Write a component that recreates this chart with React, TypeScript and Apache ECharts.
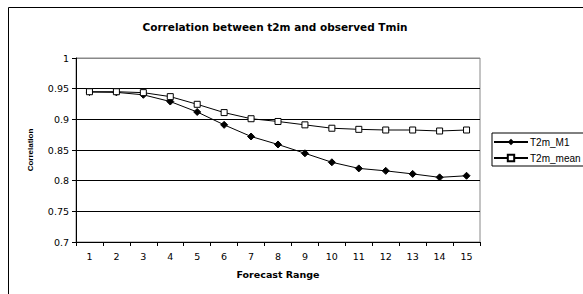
import React, { useEffect, useRef } from "react";
import * as echarts from "echarts";

const categories = ["1","2","3","4","5","6","7","8","9","10","11","12","13","14","15"];
const m1Values = [0.9445, 0.944, 0.940, 0.929, 0.912, 0.891, 0.872, 0.859, 0.8446, 0.830, 0.820, 0.816, 0.811, 0.8054, 0.808];
const meanValues = [0.945, 0.945, 0.9435, 0.937, 0.9245, 0.911, 0.901, 0.8965, 0.891, 0.8855, 0.8837, 0.8826, 0.8826, 0.881, 0.8826];

export default function App() {
  const ref = useRef<HTMLDivElement>(null);
  useEffect(() => {
    if (!ref.current) return;
    const chart = echarts.init(ref.current, undefined, { renderer: "svg" });
    const font = "'DejaVu Sans', Arial, sans-serif";
    const font2 = "Arial, 'Liberation Sans', sans-serif";
    chart.setOption({
      animation: false,
      backgroundColor: "#fff",
      textStyle: { fontFamily: font },
      title: {
        text: "Correlation between t2m and observed Tmin",
        left: 270,
        textAlign: "center",
        top: 16,
        textStyle: { fontSize: 10.5, fontWeight: "bold", color: "#000", fontFamily: font },
      },
      graphic: [
        {
          type: "rect",
          shape: { x: 8.5, y: 7.5, width: 700, height: 400 },
          style: { fill: "none", stroke: "#000", lineWidth: 1 },
          silent: true,
          z: -1,
        },
      ],
      legend: {
        left: 492,
        top: 133,
        orient: "vertical",
        itemWidth: 34,
        itemHeight: 8,
        itemGap: 6,
        padding: [4, 40, 3, 1],
        borderColor: "#000",
        borderWidth: 1,
        backgroundColor: "#fff",
        textStyle: { fontSize: 10, color: "#000", fontFamily: font2, padding: [0, 0, 0, -3] },
        data: ["T2m_M1", "T2m_mean"],
      },
      grid: {
        left: 76,
        right: 103,
        top: 58,
        bottom: 52,
        show: true,
        borderColor: "#888",
        borderWidth: 1,
      },
      xAxis: {
        type: "category",
        data: categories,
        boundaryGap: true,
        name: "Forecast Range",
        nameLocation: "middle",
        nameGap: 27,
        nameTextStyle: { fontSize: 9.5, fontWeight: "bold", color: "#000", fontFamily: font },
        axisLine: { lineStyle: { color: "#000", width: 1 } },
        axisTick: { show: true, alignWithLabel: false, length: 4, lineStyle: { color: "#000" } },
        axisLabel: { fontSize: 9.5, color: "#000", margin: 9, fontFamily: font },
        splitLine: { show: false },
      },
      yAxis: {
        type: "value",
        min: 0.7,
        max: 1,
        interval: 0.05,
        name: "Correlation",
        nameLocation: "middle",
        nameGap: 42,
        nameTextStyle: { fontSize: 8, fontWeight: "bold", color: "#000", fontFamily: font2 },
        axisLine: { show: true, lineStyle: { color: "#000", width: 1 } },
        axisTick: { show: true, length: 4, lineStyle: { color: "#000" } },
        axisLabel: { fontSize: 9.5, color: "#000", margin: 7, fontFamily: font },
        splitLine: {
          show: true,
          lineStyle: { color: ["#000", "#000", "#000", "#000", "#000", "#000", "#888"], width: 1 },
        },
      },
      series: [
        {
          name: "T2m_M1",
          type: "line",
          data: m1Values,
          symbol: "diamond",
          symbolSize: 7,
          color: "#000",
          itemStyle: { color: "#000", borderColor: "#000" },
          lineStyle: { color: "#000", width: 1 },
        },
        {
          name: "T2m_mean",
          type: "line",
          data: meanValues,
          symbol: "rect",
          symbolSize: 6,
          color: "#000",
          itemStyle: { color: "#fff", borderColor: "#000", borderWidth: 1 },
          lineStyle: { color: "#000", width: 1 },
        },
      ],
    });
    return () => chart.dispose();
  }, []);
  return (
    <div
      ref={ref}
      style={{ position: "absolute", left: 0, top: 0, width: 583, height: 294 }}
    />
  );
}
